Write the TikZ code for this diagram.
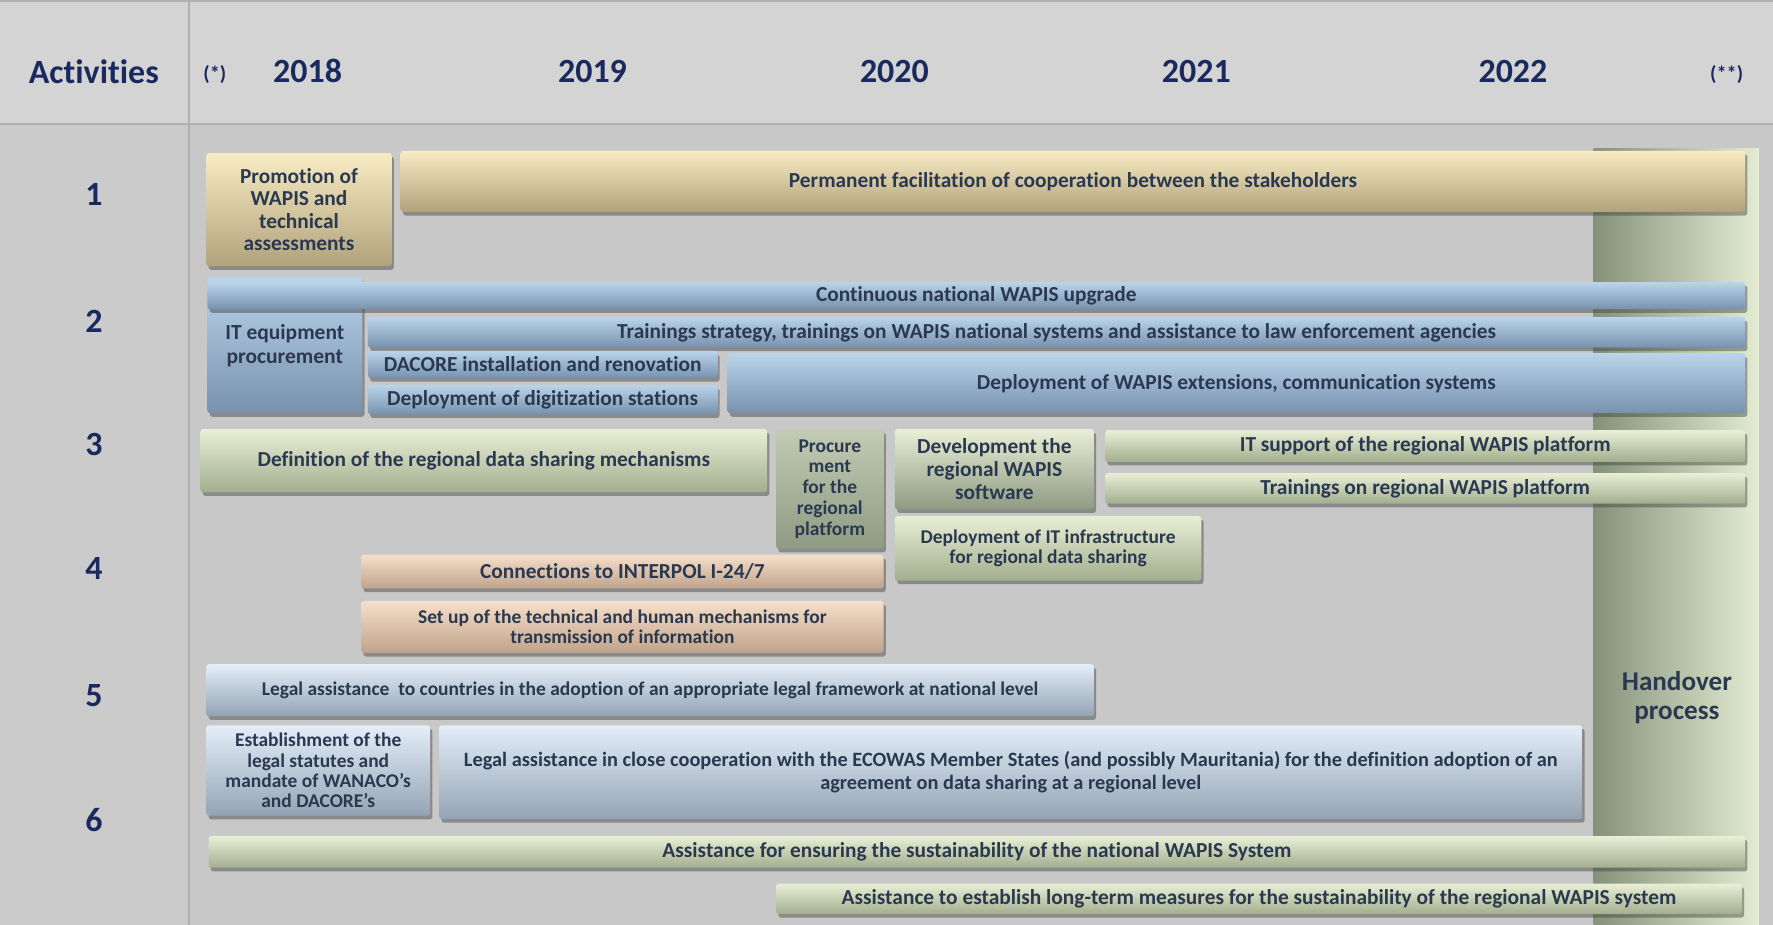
\documentclass[tikz,border=0pt]{standalone}
\usepackage{fontspec}
\setmainfont{Carlito}[Ligatures=CommonOff]
\usetikzlibrary{shadows}
\definecolor{navy}{HTML}{1B2A5E}
\definecolor{boxtxt}{HTML}{2A3950}
\definecolor{hdrbg}{HTML}{D4D4D4}
\definecolor{bodybg}{HTML}{C8C8C8}
\definecolor{leftbg}{HTML}{CBCBCB}
\definecolor{gridln}{HTML}{B0B0B0}
\definecolor{tanT}{HTML}{F8ECC4}
\definecolor{tanM}{HTML}{E2D3A6}
\definecolor{tanB}{HTML}{B1A27C}
\definecolor{bluT}{HTML}{BAD4EB}
\definecolor{bluM}{HTML}{9EBAD6}
\definecolor{bluB}{HTML}{7892AE}
\definecolor{grnT}{HTML}{E9EFD6}
\definecolor{grnM}{HTML}{CDD6B6}
\definecolor{grnB}{HTML}{A2AE8E}
\definecolor{dgrT}{HTML}{C3CBB4}
\definecolor{dgrB}{HTML}{8E9A82}
\definecolor{pchT}{HTML}{F6DFC9}
\definecolor{pchM}{HTML}{E6C9AF}
\definecolor{pchB}{HTML}{C0A38D}
\definecolor{lbuT}{HTML}{E4EEF9}
\definecolor{lbuM}{HTML}{C3CFDD}
\definecolor{lbuB}{HTML}{94A3B4}
\definecolor{hoL}{HTML}{85927A}
\definecolor{hoR}{HTML}{E3ECD2}
\newcommand\setfs[2]{\fontsize{#1}{#2}\selectfont}
\newcommand\gbox[7]{\node[#6,anchor=north west,minimum width={(#4-#2)*0.5pt},minimum height={(#5-#3)*0.5pt}] (#1) at (#2,#3) {#7};}
\tikzset{
  bar/.style={rounded corners=1.2pt, inner sep=1pt, align=center, text=boxtxt,
    font=\bfseries\setfs{9.45}{10},
    drop shadow={shadow xshift=1pt, shadow yshift=-1.6pt, opacity=0.45, fill=black!75}},
  tanbox/.style={bar, top color=tanT, middle color=tanM, bottom color=tanB},
  bluebox/.style={bar, top color=bluT, middle color=bluM, bottom color=bluB},
  greenbox/.style={bar, top color=grnT, middle color=grnM, bottom color=grnB},
  dgreenbox/.style={bar, top color=dgrT, bottom color=dgrB},
  peachbox/.style={bar, top color=pchT, middle color=pchM, bottom color=pchB},
  lbluebox/.style={bar, top color=lbuT, middle color=lbuM, bottom color=lbuB},
  smalltxt/.style={font=\bfseries\setfs{8.6}{9}},
  hdr/.style={text=navy, font=\bfseries\setfs{15}{16}},
  star/.style={text=navy, font=\bfseries\setfs{9}{10}},
  rownum/.style={text=navy, font=\bfseries\setfs{15}{16}},
}
\begin{document}
\begin{tikzpicture}[x=0.5pt,y=-0.5pt]
\useasboundingbox (0,0) rectangle (1568,818);
% backgrounds
\fill[hdrbg] (0,0) rectangle (1568,110);
\fill[leftbg] (0,110) rectangle (167,818);
\fill[bodybg] (167,110) rectangle (1568,818);
\draw[gridln, line width=0.8pt] (0,1) -- (1568,1);
\draw[gridln, line width=0.8pt] (0,110) -- (1568,110);
\draw[gridln, line width=0.8pt] (167,0) -- (167,818);
% header
\node[hdr] (hact) at (83,63) {Activities};
\node[star] (hs1) at (190,66) {(*)};
\node[hdr] (y2018) at (272,63) {2018};
\node[hdr] (y2019) at (524,63) {2019};
\node[hdr] (y2020) at (791,63) {2020};
\node[hdr] (y2021) at (1058,63) {2021};
\node[hdr] (y2022) at (1338,63) {2022};
\node[star] (hs2) at (1527,66) {(**)};
% row numbers
\node[rownum] (n1) at (83,172) {1};
\node[rownum] (n2) at (83,284) {2};
\node[rownum] (n3) at (83,393) {3};
\node[rownum] (n4) at (83,503) {4};
\node[rownum] (n5) at (83,615) {5};
\node[rownum] (n6) at (83,725) {6};
% handover column
\node[anchor=north west, inner sep=0pt, minimum width={146*0.5pt}, minimum height={687*0.5pt}, left color=hoL, right color=hoR] (handover) at (1409,131) {};
\draw[hoR!90!white, line width=1pt] (1555,131) -- (1555,818);
\node[text=boxtxt, font=\bfseries\setfs{12}{13}, align=center] (hotext) at (1483,617) {Handover\\process};
% row 1
\gbox{promo}{182}{135}{346}{235}{tanbox}{Promotion of\\WAPIS and\\technical\\assessments}
\gbox{permanent}{354}{133}{1543}{187}{tanbox}{Permanent facilitation of cooperation between the stakeholders}
% row 2
\gbox{itequip}{183}{245}{320}{365}{bluebox,font=\bfseries\setfs{9.5}{10.5}}{IT equipment\\procurement}
\gbox{contup}{183}{249}{1543}{273}{bluebox}{Continuous national WAPIS upgrade}
\gbox{trainnat}{325}{280}{1543}{307}{bluebox}{Trainings strategy, trainings on WAPIS national systems and assistance to law enforcement agencies}
\gbox{dacore}{325}{310}{634}{334}{bluebox}{DACORE installation and renovation}
\gbox{digit}{325}{340}{634}{366}{bluebox}{Deployment of digitization stations}
\gbox{wapisext}{643}{312}{1543}{365}{bluebox}{Deployment of WAPIS extensions, communication systems}
% row 3
\gbox{defreg}{177}{379}{678}{435}{greenbox}{Definition of the regional data sharing mechanisms}
\gbox{procure}{686}{379}{781}{485}{dgreenbox,font=\bfseries\setfs{8.6}{9.2}}{Procure\\ment\\for the\\regional\\platform}
\gbox{devreg}{791}{379}{967}{450}{dgreenbox,top color=grnT}{Development the\\regional WAPIS\\software}
\gbox{itsupp}{977}{380}{1543}{408}{greenbox}{IT support of the regional WAPIS platform}
\gbox{trainreg}{977}{418}{1543}{445}{greenbox}{Trainings on regional WAPIS platform}
\gbox{itinfra}{791}{456}{1062}{513}{greenbox,smalltxt}{Deployment of IT infrastructure\\for regional data sharing}
% row 4
\gbox{interpol}{319}{490}{781}{520}{peachbox}{Connections to INTERPOL I-24/7}
\gbox{setup}{319}{531}{781}{577}{peachbox,smalltxt}{Set up of the technical and human mechanisms for\\transmission of information}
% row 5
\gbox{legnat}{182}{587}{967}{633}{lbluebox,smalltxt}{Legal assistance \ to countries in the adoption of an appropriate legal framework at national level}
% row 6
\gbox{establish}{182}{641}{380}{721}{lbluebox,smalltxt}{Establishment of the\\legal statutes and\\mandate of WANACO’s\\and DACORE’s}
\gbox{legreg}{388}{641}{1399}{724}{lbluebox,font=\bfseries\setfs{9}{10}}{Legal assistance in close cooperation with the ECOWAS Member States (and possibly Mauritania) for the definition adoption of an\\agreement on data sharing at a regional level}
\gbox{sustnat}{184}{739}{1543}{767}{greenbox}{Assistance for ensuring the sustainability of the national WAPIS System}
\gbox{sustreg}{686}{781}{1540}{808}{greenbox}{Assistance to establish long-term measures for the sustainability of the regional WAPIS system}
\end{tikzpicture}
\end{document}
